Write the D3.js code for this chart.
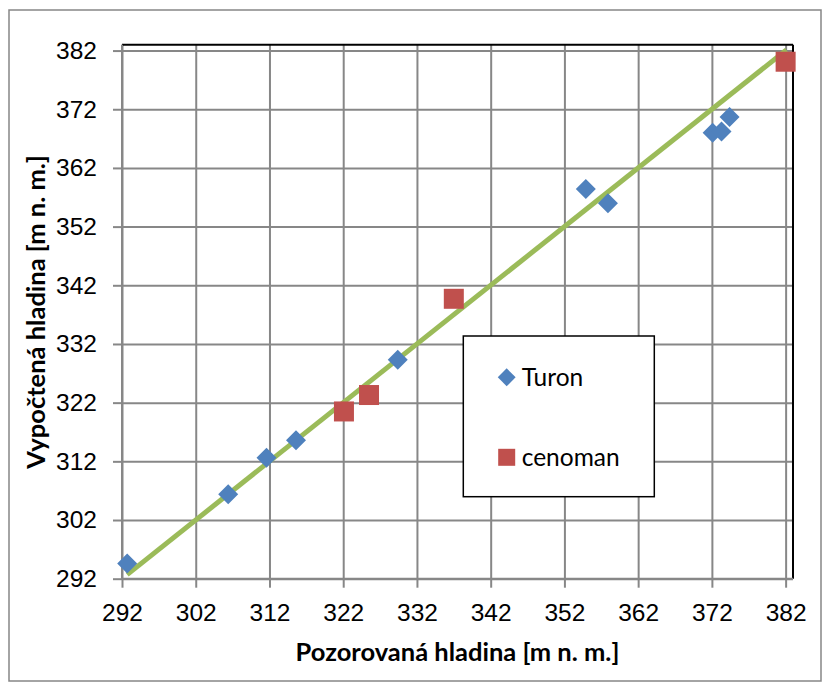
<!DOCTYPE html>
<html>
<head>
<meta charset="utf-8">
<script src="https://cdn.jsdelivr.net/npm/d3@7"></script>
<style>
  body { margin: 0; background: #fff; }
  svg { display: block; font-family: Lato, "Open Sans", sans-serif; }
  .tick text { font-size: 24.5px; fill: #000; }
  .axis path { display: none; }
  .axis line, .grid line { stroke: #878787; stroke-width: 2; }
  .title { font-size: 25.5px; font-weight: bold; }
</style>
</head>
<body>
<svg width="824" height="684"></svg>
<script>
// Turon (blue diamonds)
const turonX = [292.7, 306.4, 311.6, 315.6, 329.4, 354.9, 357.9, 372.1, 373.3, 374.4]
const turonY = [294.6, 306.4, 312.6, 315.6, 329.3, 358.4, 356.0, 368.0, 368.2, 370.7]
// cenoman (red squares)
const cenomanX = [322.1, 325.5, 337.0, 382.0]
const cenomanY = [320.5, 323.3, 339.7, 380.1]
// trend line y = x
const lineX = [292.7, 382.1]
const lineY = [292.7, 382.1]

const ticks = [292, 302, 312, 322, 332, 342, 352, 362, 372, 382]

const svg = d3.select("svg")

const x = d3.scaleLinear().domain([292, 383]).range([122, 793])
const y = d3.scaleLinear().domain([292, 383]).range([578.7, 44.7])

// outer frame
svg.append("rect")
  .attr("x", 9).attr("y", 10)
  .attr("width", 812).attr("height", 671)
  .attr("fill", "#fff")
  .attr("stroke", "#868686")
  .attr("stroke-width", 1.5)

// gridlines
svg.append("g")
  .attr("class", "grid")
  .attr("transform", "translate(0,578.7)")
  .call(d3.axisBottom(x).tickValues(ticks).tickSize(-534).tickFormat(""))
  .select(".domain").remove()

svg.append("g")
  .attr("class", "grid")
  .attr("transform", "translate(122,0)")
  .call(d3.axisLeft(y).tickValues(ticks).tickSize(-671).tickFormat(""))
  .select(".domain").remove()

// plot frame top/right in black
svg.append("line")
  .attr("x1", 122).attr("x2", 793)
  .attr("y1", 44.7).attr("y2", 44.7)
  .attr("stroke", "#000").attr("stroke-width", 2)
svg.append("line")
  .attr("x1", 793).attr("x2", 793)
  .attr("y1", 44.7).attr("y2", 578.7)
  .attr("stroke", "#000").attr("stroke-width", 2)

// axes
const xAxis = svg.append("g")
  .attr("class", "axis")
  .attr("transform", "translate(0,578.7)")
  .call(d3.axisBottom(x).tickValues(ticks).tickSize(9).tickPadding(15.5).tickFormat(d3.format("d")))
xAxis.selectAll(".tick text").attr("dy", "0.72em")

const yAxis = svg.append("g")
  .attr("class", "axis")
  .attr("transform", "translate(122,0)")
  .call(d3.axisLeft(y).tickValues(ticks).tickSize(9).tickPadding(16).tickFormat(d3.format("d")))

svg.append("line")
  .attr("x1", 122).attr("x2", 793)
  .attr("y1", 578.7).attr("y2", 578.7)
  .attr("stroke", "#878787").attr("stroke-width", 2)
svg.append("line")
  .attr("x1", 122).attr("x2", 122)
  .attr("y1", 44.7).attr("y2", 578.7)
  .attr("stroke", "#878787").attr("stroke-width", 2)

// trend line
svg.append("line")
  .attr("x1", x(lineX[0])).attr("y1", y(lineY[0]))
  .attr("x2", x(lineX[1])).attr("y2", y(lineY[1]))
  .attr("stroke", "#9BBB59")
  .attr("stroke-width", 5)

const diamond = d3.symbol().type(d3.symbolSquare).size(200)

svg.append("g")
  .selectAll("path")
  .data(turonX)
  .enter()
  .append("path")
  .attr("d", diamond)
  .attr("transform", (d, i) => `translate(${x(d)},${y(turonY[i])}) rotate(45)`)
  .attr("fill", "#4F81BD")

svg.append("g")
  .selectAll("rect")
  .data(cenomanX)
  .enter()
  .append("rect")
  .attr("x", (d) => x(d) - 10)
  .attr("y", (d, i) => y(cenomanY[i]) - 10)
  .attr("width", 20)
  .attr("height", 20)
  .attr("fill", "#C0504D")

// legend
const legend = svg.append("g")
legend.append("rect")
  .attr("x", 463.3).attr("y", 336)
  .attr("width", 191).attr("height", 160.7)
  .attr("fill", "#fff")
  .attr("stroke", "#000")
  .attr("stroke-width", 1.5)
legend.append("path")
  .attr("d", d3.symbol().type(d3.symbolSquare).size(160))
  .attr("transform", "translate(506.7,377.3) rotate(45)")
  .attr("fill", "#4F81BD")
legend.append("rect")
  .attr("x", 498.2).attr("y", 448.8)
  .attr("width", 17).attr("height", 17)
  .attr("fill", "#C0504D")
legend.append("text")
  .attr("x", 521.7).attr("y", 386)
  .attr("font-size", 24.5)
  .text("Turon")
legend.append("text")
  .attr("x", 521.7).attr("y", 465.5)
  .attr("font-size", 24.5)
  .text("cenoman")

// axis titles
svg.append("text")
  .attr("class", "title")
  .attr("x", 457.5).attr("y", 661)
  .attr("text-anchor", "middle")
  .text("Pozorovaná hladina [m n. m.]")

svg.append("text")
  .attr("class", "title")
  .attr("transform", "translate(45,312) rotate(-90)")
  .attr("text-anchor", "middle")
  .text("Vypočtená hladina [m n. m.]")
</script>
</body>
</html>
